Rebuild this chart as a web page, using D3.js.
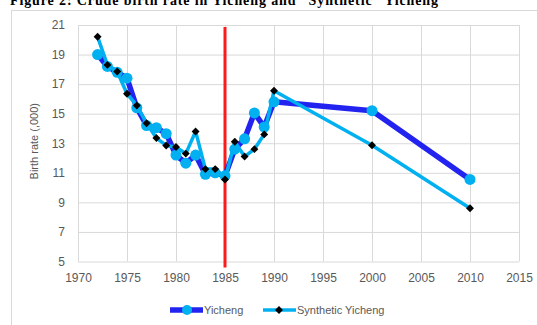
<!DOCTYPE html>
<html>
<head>
<meta charset="utf-8">
<script src="https://cdn.jsdelivr.net/npm/d3@7"></script>
<style>
  body { margin: 0; background: #fff; }
  text { font-family: "Liberation Sans", Arial, sans-serif; }
</style>
</head>
<body>
<div id="chart"></div>
<script>
// data
var years = [1972, 1973, 1974, 1975, 1976, 1977, 1978, 1979, 1980, 1981, 1982,
  1983, 1984, 1985, 1986, 1987, 1988, 1989, 1990, 2000, 2010];
var yicheng = [19.0, 18.2, 17.8, 17.4, 15.4, 14.2, 14.05, 13.65, 12.2, 11.65, 12.2,
  10.9, 11.0, 10.8, 12.6, 13.3, 15.05, 14.1, 15.8, 15.2, 10.55];
var synthetic = [20.2, 18.3, 17.85, 16.35, 15.55, 14.35, 13.35, 12.85, 12.75, 12.3, 13.8,
  11.25, 11.25, 10.55, 13.1, 12.1, 12.6, 13.6, 16.55, 12.87, 8.6];
var xTicks = [1970, 1975, 1980, 1985, 1990, 1995, 2000, 2005, 2010, 2015];
var yTicks = [5, 7, 9, 11, 13, 15, 17, 19, 21];
var treatYear = 1985;

var svgWidth = 537;
var svgHeight = 325;
var margin = { top: 25, right: 18, bottom: 63.5, left: 78 };
var width = svgWidth - margin.left - margin.right;
var height = svgHeight - margin.top - margin.bottom;

var svg = d3.select("#chart")
  .append("svg")
  .attr("width", svgWidth)
  .attr("height", svgHeight);

// outer chart frame
svg.append("rect")
  .attr("x", 11.5)
  .attr("y", 10.5)
  .attr("width", 540)
  .attr("height", 330)
  .attr("fill", "none")
  .attr("stroke", "#d9d9d9");

// title, cut off at the top of the crop
svg.append("text")
  .attr("x", 10)
  .attr("y", 5)
  .attr("textLength", 428)
  .style("font-family", "'Liberation Serif', serif")
  .style("font-weight", "bold")
  .style("font-size", "14px")
  .attr("fill", "#000")
  .text("Figure 2: Crude birth rate in Yicheng and \u201CSynthetic\u201D Yicheng");

var chartGroup = svg.append("g")
  .attr("transform", `translate(${margin.left}, ${margin.top})`);

var x = d3.scaleLinear().domain([1970, 2015]).range([0, width]);
var y = d3.scaleLinear().domain([5, 21]).range([height, 0]);

// gridlines + axes
var yAxis = chartGroup.append("g")
  .call(d3.axisLeft(y).tickValues(yTicks).tickSize(-width).tickPadding(13).tickFormat(d3.format("d")));
var xAxis = chartGroup.append("g")
  .attr("transform", `translate(0, ${height})`)
  .call(d3.axisBottom(x).tickValues(xTicks).tickSize(-height).tickPadding(12).tickFormat(d3.format("d")));

[xAxis, yAxis].forEach(g => {
  g.select(".domain").remove();
  g.selectAll(".tick line").attr("stroke", "#d9d9d9");
  g.selectAll(".tick text")
    .attr("fill", "#595959")
    .style("font-size", "12px");
});

// red line at the intervention year
chartGroup.append("line")
  .attr("x1", x(treatYear))
  .attr("x2", x(treatYear))
  .attr("y1", 2)
  .attr("y2", height + 6)
  .attr("stroke", "#ff1a1a")
  .attr("stroke-width", 3);

var line = d3.line()
  .x((d, i) => x(years[i]))
  .y(d => y(d));

// Yicheng
chartGroup.append("path")
  .datum(yicheng)
  .attr("d", line)
  .attr("fill", "none")
  .attr("stroke", "#2323f0")
  .attr("stroke-width", 5.5)
  .attr("stroke-linejoin", "round");

chartGroup.selectAll(".yc")
  .data(yicheng)
  .enter()
  .append("circle")
  .attr("class", "yc")
  .attr("cx", (d, i) => x(years[i]))
  .attr("cy", d => y(d))
  .attr("r", 5.5)
  .attr("fill", "#00b0f0");

// Synthetic Yicheng
chartGroup.append("path")
  .datum(synthetic)
  .attr("d", line)
  .attr("fill", "none")
  .attr("stroke", "#00b0f0")
  .attr("stroke-width", 3.5)
  .attr("stroke-linejoin", "round");

var diamond = d3.symbol().type(d3.symbolDiamond2).size(40);

chartGroup.selectAll(".syn")
  .data(synthetic)
  .enter()
  .append("path")
  .attr("class", "syn")
  .attr("d", diamond)
  .attr("transform", (d, i) => `translate(${x(years[i])}, ${y(d)})`)
  .attr("fill", "#000");

// y axis title
chartGroup.append("text")
  .attr("transform", "rotate(-90)")
  .attr("x", -height / 2 + 2)
  .attr("y", -40)
  .attr("text-anchor", "middle")
  .attr("fill", "#595959")
  .style("font-size", "11px")
  .text("Birth rate (,000)");

// legend
var legend = svg.append("g").attr("transform", "translate(0, 310)");

legend.append("line")
  .attr("x1", 170).attr("x2", 203)
  .attr("stroke", "#2323f0").attr("stroke-width", 5.5);
legend.append("circle")
  .attr("cx", 187).attr("cy", 0).attr("r", 5)
  .attr("fill", "#00b0f0");
legend.append("text")
  .attr("x", 204).attr("y", 4)
  .attr("fill", "#595959")
  .style("font-size", "11px")
  .text("Yicheng");

legend.append("line")
  .attr("x1", 263).attr("x2", 296)
  .attr("stroke", "#00b0f0").attr("stroke-width", 3.5);
legend.append("path")
  .attr("d", diamond)
  .attr("transform", "translate(279, 0)")
  .attr("fill", "#000");
legend.append("text")
  .attr("x", 297).attr("y", 4)
  .attr("fill", "#595959")
  .style("font-size", "11px")
  .text("Synthetic Yicheng");
</script>
</body>
</html>
